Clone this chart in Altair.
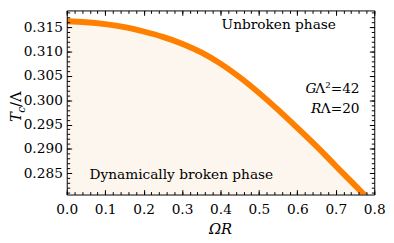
import altair as alt
import pandas as pd

# ---- data ----
omega_r = [0.00, 0.05, 0.10, 0.15, 0.20, 0.25, 0.30, 0.35, 0.40, 0.45, 0.50,
           0.55, 0.60, 0.65, 0.70, 0.75, 0.78]
tc_over_lambda = [0.3162, 0.3160, 0.3156, 0.3150, 0.3141, 0.3130, 0.3116, 0.3098,
                  0.3075, 0.3047, 0.3015, 0.2980, 0.2943, 0.2905, 0.2865, 0.2825, 0.2801]

x_major = [0.0, 0.1, 0.2, 0.3, 0.4, 0.5, 0.6, 0.7, 0.8]
x_minor = [round(0.02 * i, 2) for i in range(41)]
y_major = [0.285, 0.290, 0.295, 0.300, 0.305, 0.310, 0.315]
y_minor = [round(0.281 + 0.001 * i, 3) for i in range(38)]

label_texts = ["Unbroken phase", "Dynamically broken phase", "G", "Λ²=42", "R", "Λ=20",
               "ΩR", "T", "c", "/Λ"]

df = pd.DataFrame({"omega_r": omega_r, "tc": tc_over_lambda})

FONT = "DejaVu Serif"
ORANGE = "#FF8000"
FILL = "#FDF6EE"

xs = alt.Scale(domain=[0.0, 0.8], nice=False, zero=False)
ys = alt.Scale(domain=[0.28063, 0.31842], nice=False, zero=False)


def ax(orient, values, size, labels=False, fmt=None, pad=0, frame=False):
    kw = dict(orient=orient, values=values, grid=False, title="", zindex=2,
              tickColor="black", tickWidth=1, domainColor="black", domainWidth=1)
    if frame:
        kw.update(ticks=False, labels=False, domain=True, offset=0)
    else:
        kw.update(ticks=True, tickSize=size, offset=-size, domain=False, labels=labels)
    if labels:
        kw.update(format=fmt, labelFont=FONT, labelFontSize=14, labelColor="black",
                  labelFlush=False, labelOverlap=False, labelPadding=pad)
    return alt.Axis(**kw)


def xy(xaxis, yaxis):
    return dict(x=alt.X("omega_r:Q", scale=xs, axis=xaxis),
                y=alt.Y("tc:Q", scale=ys, axis=yaxis))


area = alt.Chart(df).mark_area(color=FILL, clip=True, interpolate="monotone").encode(
    **xy(ax("bottom", x_major, 5, True, ".1f", 8), ax("left", y_major, 5, True, ".3f", 4.5)),
    y2=alt.datum(0.27),
)
line = alt.Chart(df).mark_line(color=ORANGE, strokeWidth=6, clip=True,
                               interpolate="monotone").encode(
    **xy(ax("bottom", x_minor, 3), ax("left", y_minor, 3))
)
g1 = alt.Chart(df).mark_line(strokeOpacity=0).encode(
    **xy(ax("top", x_major, 5), ax("right", y_major, 5)))
g2 = alt.Chart(df).mark_line(strokeOpacity=0).encode(
    **xy(ax("top", x_minor, 3), ax("right", y_minor, 3)))
g3 = alt.Chart(df).mark_line(strokeOpacity=0).encode(
    **xy(ax("bottom", x_major, 0, frame=True), ax("left", y_major, 0, frame=True)))
g4 = alt.Chart(df).mark_line(strokeOpacity=0).encode(
    **xy(ax("top", x_major, 0, frame=True), ax("right", y_major, 0, frame=True)))


def txt(s, x, y, size=14, align="left", style="normal", angle=0):
    return alt.Chart(pd.DataFrame({"t": [s]})).mark_text(
        font=FONT, fontSize=size, color="black", align=align, baseline="alphabetic",
        fontStyle=style, angle=angle,
    ).encode(text="t:N", x=alt.value(x), y=alt.value(y))


texts = [
    txt(label_texts[0], 216.5, 19, align="center"),
    txt(label_texts[1], 117, 172, align="center"),
    txt(label_texts[2], 255, 84, align="right", style="italic"),
    txt(label_texts[3], 299, 84, align="right"),
    txt(label_texts[4], 260, 105, align="right", style="italic"),
    txt(label_texts[5], 299, 105, align="right"),
    txt(label_texts[6], 157, 228, size=15, align="center", style="italic"),
    txt(label_texts[7], -47, 114, size=15, style="italic", angle=270),
    txt(label_texts[8], -43, 104.5, size=11, style="italic", angle=270),
    txt(label_texts[9], -47, 98.5, size=15, angle=270),
]

chart = alt.layer(area, line, g1, g2, g3, g4, *texts).resolve_axis(
    x="independent", y="independent"
).properties(
    width=314, height=188,
    autosize=alt.AutoSizeParams(type="none"),
    padding={"left": 60, "top": 0, "right": 12, "bottom": 47},
    background="white",
).configure_view(stroke="transparent")

chart.save("out.html", embed_options={"renderer": "svg", "actions": False})
